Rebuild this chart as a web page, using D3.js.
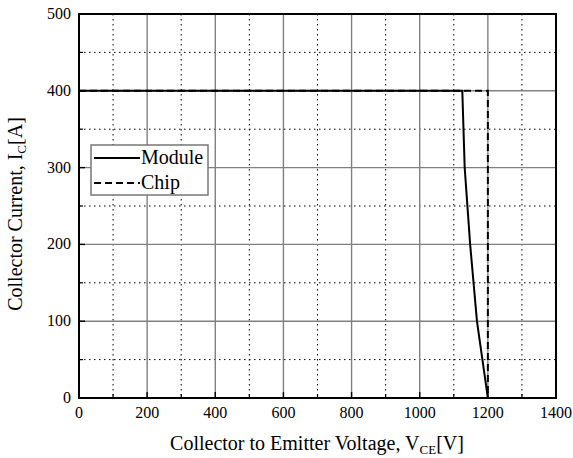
<!DOCTYPE html>
<html><head><meta charset="utf-8">
<script src="https://cdn.jsdelivr.net/npm/d3@7"></script>
<style>body{margin:0;background:#fff}</style>
</head><body>
<svg id="c" width="573" height="458"></svg>
<script>
const xTicks = [0,200,400,600,800,1000,1200,1400];
const xMinor = [100,300,500,700,900,1100,1300];
const yTicks = [0,100,200,300,400,500];
const yMinor = [50,150,250,350,450];
const moduleV = [0,1125,1132,1148,1168,1176,1200];
const moduleI = [400,400,300,200,100,75,0];
const chipV = [0,1200,1200];
const chipI = [400,400,0];
const seriesNames = ["Module","Chip"];

const svg = d3.select("#c");
const L=79,R=556,T=14,B=398;
const x = d3.scaleLinear().domain([0,1400]).range([L,R]);
const y = d3.scaleLinear().domain([0,500]).range([B,T]);
const font = "'Liberation Serif','Times New Roman',serif";

// minor dotted grid
svg.append("g").selectAll("line").data(xMinor).join("line")
  .attr("x1",d=>x(d)).attr("x2",d=>x(d)).attr("y1",T).attr("y2",B)
  .attr("stroke","#000").attr("stroke-width",1).attr("stroke-dasharray","1.5,3.5");
svg.append("g").selectAll("line").data(yMinor).join("line")
  .attr("y1",d=>y(d)).attr("y2",d=>y(d)).attr("x1",L).attr("x2",R)
  .attr("stroke","#000").attr("stroke-width",1).attr("stroke-dasharray","1.5,3.5");
// major grid
svg.append("g").selectAll("line").data(xTicks.slice(1,-1)).join("line")
  .attr("x1",d=>x(d)).attr("x2",d=>x(d)).attr("y1",T).attr("y2",B)
  .attr("stroke","#808080").attr("stroke-width",1.4);
svg.append("g").selectAll("line").data(yTicks.slice(1,-1)).join("line")
  .attr("y1",d=>y(d)).attr("y2",d=>y(d)).attr("x1",L).attr("x2",R)
  .attr("stroke","#808080").attr("stroke-width",1.4);

// inward ticks
svg.append("g").selectAll("line").data(xTicks).join("line")
  .attr("x1",d=>x(d)).attr("x2",d=>x(d)).attr("y1",B).attr("y2",B-6)
  .attr("stroke","#000").attr("stroke-width",1.4);
svg.append("g").selectAll("line").data(xMinor).join("line")
  .attr("x1",d=>x(d)).attr("x2",d=>x(d)).attr("y1",B).attr("y2",B-4)
  .attr("stroke","#000").attr("stroke-width",1.2);
svg.append("g").selectAll("line").data(yTicks).join("line")
  .attr("y1",d=>y(d)).attr("y2",d=>y(d)).attr("x1",L).attr("x2",L+6)
  .attr("stroke","#000").attr("stroke-width",1.4);
svg.append("g").selectAll("line").data(yMinor).join("line")
  .attr("y1",d=>y(d)).attr("y2",d=>y(d)).attr("x1",L).attr("x2",L+4)
  .attr("stroke","#000").attr("stroke-width",1.2);

// data lines
const line = d3.line().x(d=>x(d[0])).y(d=>y(d[1]));
svg.append("path").datum(chipV.map((v,i)=>[v,chipI[i]])).attr("d",line)
  .attr("fill","none").attr("stroke","#000").attr("stroke-width",2).attr("stroke-dasharray","7,4");
svg.append("path").datum(moduleV.map((v,i)=>[v,moduleI[i]])).attr("d",line)
  .attr("fill","none").attr("stroke","#000").attr("stroke-width",2);

// frame
svg.append("rect").attr("x",L).attr("y",T).attr("width",R-L).attr("height",B-T)
  .attr("fill","none").attr("stroke","#000").attr("stroke-width",2);

// tick labels
svg.append("g").selectAll("text").data(xTicks).join("text")
  .attr("x",d=>x(d)).attr("y",B+20).attr("text-anchor","middle")
  .attr("font-family",font).attr("font-size",16).text(d=>d);
svg.append("g").selectAll("text").data(yTicks).join("text")
  .attr("x",L-8).attr("y",d=>y(d)+5).attr("text-anchor","end")
  .attr("font-family",font).attr("font-size",16).text(d=>d);

// axis titles
const xt = svg.append("text").attr("x",317).attr("y",450).attr("text-anchor","middle")
  .attr("font-family",font).attr("font-size",20);
xt.append("tspan").text("Collector to Emitter Voltage, V");
xt.append("tspan").attr("font-size",13).attr("dy",4).text("CE");
xt.append("tspan").attr("dy",-4).text("[V]");
const yt = svg.append("text").attr("transform","translate(22,214) rotate(-90)").attr("text-anchor","middle")
  .attr("font-family",font).attr("font-size",20);
yt.append("tspan").text("Collector Current, I");
yt.append("tspan").attr("font-size",13).attr("dy",4).text("C");
yt.append("tspan").attr("dy",-4).text("[A]");

// legend
const lg = svg.append("g");
lg.append("rect").attr("x",91).attr("y",145).attr("width",117).attr("height",50)
  .attr("fill","#fff").attr("stroke","#777").attr("stroke-width",1.5);
const dashes = [null,"7,4"];
seriesNames.forEach((n,i)=>{
  const yy = 158 + i*25;
  lg.append("line").attr("x1",94).attr("x2",140).attr("y1",yy).attr("y2",yy)
    .attr("stroke","#000").attr("stroke-width",2).attr("stroke-dasharray",dashes[i]);
  lg.append("text").attr("x",141).attr("y",yy+6).attr("font-family",font).attr("font-size",20).text(n);
});
</script>
</body></html>
